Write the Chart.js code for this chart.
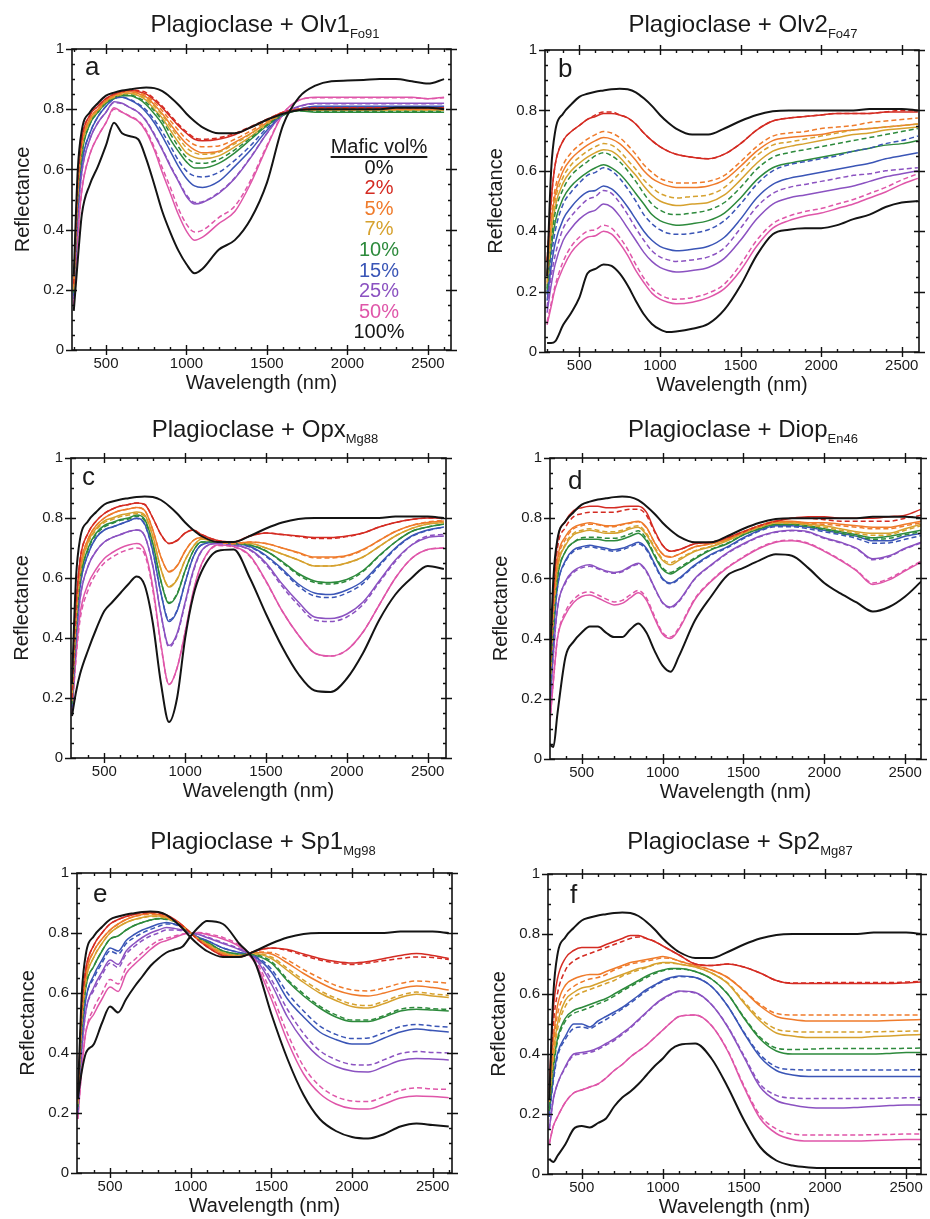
<!DOCTYPE html>
<html>
<head>
<meta charset="utf-8">
<title>Plagioclase + mafic mixtures</title>
<script src="https://cdn.jsdelivr.net/npm/chart.js@4.4.1/dist/chart.umd.min.js"></script>
<style>
body { margin: 0; background: #fff; width: 930px; height: 1219px; overflow: hidden; position: relative;
  font-family: "Liberation Sans", Arial, Helvetica, sans-serif; color: #1a1a1a; }
canvas { position: absolute; }
.ttl { position: absolute; width: 400px; text-align: center; font-size: 24px; line-height: 24px; white-space: nowrap; }
.ttl span { font-size: 13px; position: relative; top: 6px; }
.lbl { position: absolute; font-size: 26px; line-height: 26px; }
.legend { position: absolute; left: 279px; top: 136px; width: 200px; text-align: center; font-size: 20px; line-height: 20.6px; }
.legend u { text-decoration-thickness: 1.5px; text-underline-offset: 3px; }
</style>
</head>
<body>
<script>
// wavelength grid (nm)
const wl = [300,325,350,400,450,500,550,600,650,700,750, 800,850,900,950,1000,1050,1100,1200,1300,1400,1500, 1600,1700,1800,1900,2000,2100,2200,2300,2400,2500,2600];

// 0% mafic = pure plagioclase, same in every panel
const plag = [.25,.60,.73,.79,.82,.845,.855,.862,.866,.870,.872, .870,.860,.840,.815,.785,.760,.740,.720,.720,.740,.765, .785,.797,.800,.800,.800,.800,.800,.805,.805,.805,.800];

// (a) Olv1 Fo91 : measured (solid) and modelled (m, dashed)
const olv1 = [.13,.30,.45,.55,.61,.68,.755,.72,.71,.70,.635, .55,.46,.39,.33,.285,.255,.27,.333,.365,.436,.556, .747,.84,.878,.893,.895,.897,.90,.90,.893,.885,.90];
const olv1_2 = [.22,.55,.70,.78,.81,.835,.85,.858,.862,.858,.85, .83,.805,.775,.745,.72,.70,.695,.70,.715,.74,.765, .79,.80,.805,.805,.805,.805,.805,.805,.805,.805,.805];
const olv1_2m = [.22,.55,.70,.78,.81,.835,.85,.86,.864,.862,.855, .835,.81,.78,.75,.725,.705,.70,.705,.72,.742,.767, .79,.80,.805,.805,.805,.805,.805,.805,.805,.805,.805];
const olv1_5 = [.21,.53,.68,.77,.80,.83,.845,.855,.858,.852,.84, .815,.785,.75,.715,.685,.665,.655,.66,.69,.72,.755, .785,.80,.80,.80,.80,.80,.80,.80,.80,.80,.80];
const olv1_5m = [.21,.53,.68,.77,.80,.83,.845,.855,.86,.855,.845, .823,.795,.762,.73,.70,.682,.675,.678,.70,.728,.76, .787,.80,.80,.80,.80,.80,.80,.80,.80,.80,.80];
const olv1_7 = [.20,.52,.67,.76,.795,.825,.84,.85,.852,.845,.83, .80,.77,.73,.69,.655,.64,.635,.645,.675,.71,.75, .785,.797,.797,.797,.797,.797,.797,.797,.797,.797,.797];
const olv1_7m = [.20,.52,.67,.76,.795,.825,.84,.85,.853,.847,.835, .81,.78,.742,.705,.672,.655,.65,.657,.685,.718,.755, .786,.798,.797,.797,.797,.797,.797,.797,.797,.797,.797];
const olv1_10 = [.19,.50,.65,.75,.79,.82,.835,.845,.845,.835,.815, .785,.75,.70,.66,.625,.605,.605,.62,.655,.70,.745, .78,.795,.79,.79,.79,.79,.79,.79,.79,.79,.79];
const olv1_10m = [.19,.50,.65,.75,.79,.82,.838,.847,.847,.838,.822, .795,.762,.718,.675,.64,.622,.62,.633,.665,.705,.748, .782,.795,.793,.793,.793,.793,.793,.793,.793,.793,.793];
const olv1_15 = [.18,.47,.62,.72,.775,.81,.835,.84,.83,.815,.79, .755,.71,.66,.61,.57,.545,.54,.56,.61,.665,.73, .78,.80,.81,.81,.81,.81,.81,.81,.81,.81,.81];
const olv1_15m = [.18,.47,.62,.72,.775,.81,.835,.84,.832,.818,.797, .765,.725,.678,.63,.595,.578,.575,.59,.63,.68,.738, .782,.80,.808,.808,.808,.808,.808,.808,.808,.808,.808];
const olv1_25 = [.17,.44,.59,.70,.755,.79,.825,.82,.805,.79,.76, .715,.665,.61,.56,.51,.485,.49,.52,.57,.64,.72, .785,.81,.82,.82,.82,.82,.82,.82,.82,.82,.82];
const olv1_25m = [.17,.44,.59,.70,.755,.79,.822,.818,.805,.79,.762, .718,.668,.613,.563,.515,.49,.493,.523,.572,.642,.72, .783,.808,.818,.818,.818,.818,.818,.818,.818,.818,.818];
const olv1_50 = [.15,.38,.53,.65,.71,.755,.805,.79,.775,.76,.725, .665,.59,.52,.45,.395,.365,.375,.42,.46,.555,.675, .785,.83,.84,.84,.84,.84,.84,.84,.84,.835,.84];
const olv1_50m = [.15,.38,.53,.65,.71,.755,.80,.79,.777,.762,.73, .673,.605,.54,.47,.418,.392,.398,.44,.478,.565,.68, .785,.83,.838,.838,.838,.838,.838,.838,.838,.835,.838];

// (b) Olv2 Fo47
const olv2 = [.03,.03,.035,.09,.13,.18,.26,.275,.29,.285,.26, .22,.17,.125,.093,.075,.066,.068,.077,.093,.14,.22, .32,.39,.405,.41,.41,.42,.44,.455,.48,.495,.50];
const olv2_2 = [.30,.50,.62,.70,.73,.75,.77,.78,.79,.79,.785, .775,.755,.725,.70,.68,.665,.655,.645,.64,.655,.69, .735,.765,.775,.78,.785,.79,.79,.79,.795,.795,.795];
const olv2_2m = [.30,.50,.62,.70,.73,.75,.77,.785,.795,.795,.785, .775,.755,.725,.70,.68,.665,.655,.645,.64,.655,.69, .735,.765,.775,.78,.785,.79,.79,.79,.795,.80,.80];
const olv2_5 = [.25,.42,.52,.60,.64,.665,.685,.70,.71,.705,.69, .665,.635,.60,.575,.56,.55,.545,.545,.55,.57,.615, .665,.70,.71,.715,.72,.73,.735,.74,.745,.75,.755];
const olv2_5m = [.26,.44,.54,.62,.66,.685,.705,.72,.73,.725,.71, .685,.655,.62,.595,.575,.565,.56,.56,.565,.585,.63, .68,.715,.725,.73,.74,.745,.75,.76,.765,.77,.775];
const olv2_7 = [.22,.38,.48,.56,.60,.625,.645,.66,.67,.665,.645, .615,.585,.55,.52,.50,.49,.485,.49,.495,.52,.57, .625,.665,.68,.69,.70,.71,.72,.725,.735,.74,.745];
const olv2_7m = [.23,.40,.50,.58,.62,.645,.665,.68,.69,.685,.665, .635,.605,.57,.545,.525,.515,.51,.515,.52,.545,.595, .65,.685,.695,.705,.715,.725,.735,.74,.745,.75,.755];
const olv2_10 = [.20,.34,.43,.51,.55,.575,.595,.61,.62,.61,.59, .56,.525,.49,.455,.435,.425,.42,.425,.435,.46,.51, .57,.61,.625,.635,.645,.655,.665,.675,.685,.69,.70];
const olv2_10m = [.21,.36,.46,.54,.585,.61,.63,.65,.66,.65,.63, .60,.565,.525,.49,.47,.458,.455,.46,.47,.495,.545, .605,.645,.66,.67,.68,.69,.70,.71,.72,.73,.74];
const olv2_15 = [.17,.28,.36,.44,.48,.51,.53,.535,.55,.54,.515, .48,.44,.40,.37,.35,.34,.335,.34,.35,.38,.44, .51,.555,.575,.585,.595,.605,.615,.625,.64,.65,.66];
const olv2_15m = [.19,.31,.40,.49,.53,.56,.585,.595,.61,.60,.575, .54,.50,.455,.425,.405,.393,.39,.393,.405,.435,.49, .555,.60,.62,.63,.64,.65,.665,.675,.69,.70,.715];
const olv2_25 = [.13,.22,.29,.37,.41,.44,.46,.47,.49,.48,.45, .41,.37,.33,.30,.28,.27,.265,.27,.28,.31,.37, .44,.49,.51,.52,.53,.54,.55,.565,.58,.59,.60];
const olv2_25m = [.15,.25,.32,.41,.45,.48,.505,.515,.535,.525,.495, .455,.41,.37,.335,.315,.305,.30,.305,.315,.345,.41, .48,.525,.545,.555,.565,.575,.585,.59,.60,.605,.61];
const olv2_50 = [.09,.15,.21,.28,.33,.36,.38,.385,.40,.39,.36, .32,.27,.23,.195,.175,.165,.16,.165,.18,.21,.27, .35,.41,.435,.45,.46,.475,.49,.51,.53,.555,.575];
const olv2_50m = [.10,.16,.22,.30,.35,.38,.40,.405,.42,.41,.38, .34,.29,.245,.21,.19,.178,.175,.18,.195,.225,.29, .37,.425,.45,.465,.475,.49,.505,.525,.545,.57,.59];

// (c) Opx Mg88
const opx = [.14,.22,.28,.36,.43,.49,.52,.55,.58,.605,.575, .45,.25,.12,.20,.40,.54,.62,.69,.695,.60,.48, .37,.28,.225,.22,.265,.35,.46,.545,.60,.64,.63];
const opx_2 = [.20,.50,.66,.75,.79,.815,.83,.84,.845,.85,.845, .80,.745,.715,.725,.75,.76,.745,.725,.72,.74,.75, .745,.74,.735,.735,.74,.75,.77,.785,.795,.80,.80];
const opx_2m = [.20,.50,.66,.75,.79,.815,.83,.84,.845,.85,.845, .80,.745,.715,.725,.75,.76,.745,.725,.72,.74,.75, .745,.738,.732,.732,.738,.75,.77,.785,.795,.80,.80];
const opx_5 = [.20,.47,.63,.73,.775,.80,.815,.825,.83,.835,.825, .76,.67,.62,.64,.69,.725,.735,.72,.715,.72,.715, .70,.685,.67,.67,.675,.695,.725,.755,.775,.785,.79];
const opx_5m = [.20,.47,.63,.73,.775,.80,.815,.825,.83,.835,.825, .76,.67,.622,.642,.69,.725,.735,.72,.715,.72,.715, .70,.683,.667,.667,.673,.693,.725,.755,.775,.787,.792];
const opx_7 = [.19,.45,.61,.72,.765,.79,.80,.81,.815,.82,.81, .74,.63,.57,.595,.66,.705,.73,.72,.715,.715,.70, .68,.66,.64,.64,.65,.67,.705,.74,.765,.78,.785];
const opx_7m = [.19,.45,.61,.715,.76,.785,.795,.805,.81,.815,.805, .735,.63,.572,.597,.66,.705,.73,.72,.715,.715,.70, .68,.66,.64,.64,.65,.67,.705,.74,.765,.78,.785];
const opx_10 = [.18,.43,.59,.70,.75,.775,.785,.795,.80,.81,.795, .715,.59,.515,.545,.625,.69,.72,.72,.715,.71,.69, .655,.615,.59,.585,.595,.625,.675,.72,.755,.77,.78];
const opx_10m = [.18,.43,.59,.695,.745,.77,.782,.792,.797,.806,.79, .712,.59,.518,.548,.625,.69,.72,.72,.715,.71,.69, .652,.61,.585,.58,.59,.622,.673,.72,.755,.77,.78];
const opx_15 = [.17,.41,.57,.68,.735,.76,.77,.78,.79,.80,.78, .69,.55,.455,.49,.585,.67,.71,.72,.715,.705,.675, .63,.58,.55,.545,.56,.59,.645,.70,.74,.76,.77];
const opx_15m = [.17,.41,.57,.68,.735,.76,.77,.78,.79,.798,.778, .688,.55,.46,.492,.585,.67,.71,.72,.715,.703,.672, .625,.573,.54,.535,.55,.582,.64,.697,.738,.758,.77];
const opx_25 = [.16,.38,.53,.64,.69,.72,.735,.745,.755,.76,.74, .64,.48,.375,.415,.52,.625,.69,.715,.71,.695,.65, .58,.52,.47,.465,.48,.52,.59,.66,.71,.735,.74];
const opx_25m = [.16,.38,.53,.64,.69,.72,.735,.745,.755,.76,.74, .64,.48,.37,.41,.515,.62,.688,.715,.71,.693,.645, .572,.51,.46,.455,.47,.512,.585,.655,.71,.74,.745];
const opx_50 = [.15,.34,.48,.58,.63,.665,.685,.70,.71,.715,.69, .57,.38,.245,.30,.42,.555,.645,.71,.705,.675,.59, .49,.41,.35,.34,.36,.42,.51,.60,.665,.695,.70];
const opx_50m = [.15,.33,.46,.56,.615,.65,.67,.685,.695,.70,.678, .56,.375,.245,.30,.42,.55,.643,.708,.703,.672,.588, .49,.41,.35,.34,.36,.42,.51,.60,.665,.695,.70];

// (d) Diop En46
const diop = [.05,.04,.15,.34,.39,.42,.44,.44,.42,.405,.405, .43,.45,.42,.36,.31,.29,.34,.46,.54,.61,.635, .66,.68,.675,.635,.585,.55,.52,.49,.505,.54,.59];
const diop_2 = [.25,.55,.72,.79,.825,.835,.84,.84,.835,.835,.838, .84,.84,.82,.76,.71,.69,.695,.715,.72,.735,.755, .775,.79,.80,.805,.805,.80,.80,.80,.805,.81,.83];
const diop_2m = [.25,.55,.70,.77,.805,.815,.82,.82,.82,.82,.825, .83,.83,.81,.755,.71,.69,.695,.715,.72,.735,.755, .775,.79,.80,.80,.795,.79,.79,.79,.79,.80,.81];
const diop_5 = [.22,.50,.66,.74,.77,.78,.785,.78,.775,.775,.78, .785,.79,.77,.72,.68,.67,.68,.705,.715,.73,.755, .775,.79,.79,.785,.785,.78,.775,.77,.77,.78,.79];
const diop_5m = [.22,.50,.65,.73,.765,.775,.78,.778,.772,.772,.778, .783,.788,.768,.72,.682,.672,.68,.705,.715,.73,.755, .775,.788,.788,.783,.78,.775,.77,.765,.765,.775,.785];
const diop_7 = [.20,.47,.63,.71,.745,.755,.76,.755,.75,.75,.755, .765,.77,.745,.70,.66,.645,.66,.69,.705,.725,.75, .77,.785,.785,.78,.775,.765,.755,.75,.75,.765,.78];
const diop_7m = [.20,.47,.63,.715,.75,.76,.765,.76,.755,.755,.76, .77,.775,.75,.705,.665,.652,.665,.692,.707,.727,.75, .77,.783,.783,.777,.77,.76,.75,.743,.745,.76,.775];
const diop_10 = [.18,.44,.60,.69,.72,.73,.73,.73,.725,.725,.73, .74,.75,.725,.675,.63,.615,.63,.665,.695,.715,.745, .765,.78,.78,.775,.765,.755,.745,.735,.74,.75,.76];
const diop_10m = [.18,.44,.60,.69,.72,.735,.737,.737,.733,.733,.738, .748,.758,.732,.68,.635,.62,.635,.668,.697,.717,.745, .765,.778,.778,.772,.762,.75,.74,.73,.733,.745,.755];
const diop_15 = [.16,.41,.57,.66,.695,.705,.71,.705,.70,.695,.70, .71,.72,.70,.65,.60,.585,.60,.645,.68,.705,.735, .76,.775,.775,.77,.76,.75,.74,.725,.725,.74,.75];
const diop_15m = [.16,.41,.57,.655,.69,.70,.705,.70,.695,.69,.695, .705,.715,.695,.645,.597,.582,.597,.642,.677,.702,.732, .757,.772,.772,.765,.755,.745,.733,.717,.718,.73,.742];
const diop_25 = [.13,.35,.50,.59,.625,.64,.645,.635,.625,.62,.625, .64,.65,.625,.57,.52,.505,.525,.60,.645,.685,.715, .74,.755,.76,.755,.735,.72,.70,.665,.675,.70,.72];
const diop_25m = [.13,.35,.50,.585,.62,.635,.64,.632,.622,.617,.622, .637,.647,.622,.568,.518,.502,.522,.598,.643,.683,.713, .738,.753,.758,.753,.733,.718,.698,.662,.672,.698,.718];
const diop_50 = [.10,.26,.40,.48,.52,.54,.545,.535,.522,.512,.517, .535,.552,.528,.468,.415,.40,.43,.53,.59,.635,.67, .70,.72,.725,.715,.69,.66,.625,.58,.595,.625,.655];
const diop_50m = [.10,.26,.40,.49,.53,.55,.555,.545,.532,.522,.527, .545,.56,.535,.475,.42,.405,.435,.533,.592,.637,.672, .702,.722,.727,.717,.692,.662,.627,.585,.60,.628,.658];

// (e) Sp1 Mg98
const sp1 = [.25,.34,.40,.43,.50,.555,.535,.58,.62,.655,.69, .715,.735,.745,.755,.79,.82,.84,.83,.765,.70,.53, .38,.26,.18,.14,.12,.115,.13,.155,.165,.16,.155];
const sp1_2 = [.25,.55,.68,.76,.80,.83,.845,.855,.862,.868,.87, .868,.86,.845,.825,.80,.775,.755,.725,.72,.74,.75, .745,.73,.715,.705,.70,.705,.715,.725,.732,.725,.715];
const sp1_2m = [.25,.55,.68,.76,.80,.83,.845,.855,.862,.866,.868, .866,.858,.843,.823,.80,.775,.755,.725,.72,.74,.75, .742,.725,.71,.70,.695,.70,.708,.715,.72,.718,.712];
const sp1_5 = [.24,.52,.66,.74,.78,.81,.83,.845,.855,.862,.865, .862,.855,.843,.825,.80,.778,.76,.73,.722,.735,.73, .70,.665,.635,.61,.595,.59,.60,.615,.623,.618,.61];
const sp1_5m = [.24,.52,.66,.74,.78,.81,.83,.845,.855,.86,.863, .86,.853,.842,.824,.80,.778,.76,.73,.722,.737,.735, .71,.678,.65,.625,.61,.607,.617,.632,.64,.637,.633];
const sp1_7 = [.23,.50,.64,.72,.765,.80,.82,.835,.845,.852,.857, .857,.85,.84,.823,.80,.78,.765,.735,.725,.73,.715, .675,.635,.60,.575,.555,.55,.565,.585,.596,.59,.585];
const sp1_7m = [.23,.50,.64,.72,.765,.80,.82,.835,.845,.85,.855, .855,.848,.838,.822,.80,.78,.765,.735,.725,.732,.72, .682,.643,.608,.583,.563,.558,.573,.592,.603,.597,.592];
const sp1_10 = [.22,.48,.62,.69,.74,.78,.79,.81,.825,.835,.843, .848,.847,.84,.82,.80,.782,.77,.74,.73,.725,.70, .64,.59,.55,.52,.505,.505,.52,.54,.546,.543,.54];
const sp1_10m = [.22,.48,.62,.69,.74,.78,.79,.81,.825,.835,.843, .847,.845,.838,.82,.80,.782,.77,.74,.73,.727,.705, .645,.597,.556,.527,.51,.51,.525,.546,.552,.548,.545];
const sp1_15 = [.21,.45,.58,.66,.71,.75,.74,.775,.795,.81,.82, .83,.835,.83,.82,.80,.785,.775,.75,.735,.72,.67, .58,.52,.47,.445,.43,.43,.45,.47,.48,.475,.47];
const sp1_15m = [.21,.45,.58,.65,.70,.74,.73,.765,.785,.80,.812, .822,.83,.828,.818,.80,.785,.775,.75,.735,.722,.68, .60,.54,.49,.462,.448,.45,.468,.488,.495,.49,.486];
const sp1_25 = [.20,.41,.54,.62,.67,.71,.695,.74,.765,.785,.80, .81,.818,.815,.81,.80,.795,.785,.765,.745,.715,.63, .52,.44,.385,.355,.34,.337,.355,.375,.382,.38,.377];
const sp1_25m = [.20,.41,.54,.61,.66,.70,.685,.73,.755,.775,.79, .80,.81,.81,.807,.80,.795,.787,.768,.748,.72,.645, .545,.465,.408,.378,.362,.36,.378,.398,.405,.402,.40];
const sp1_50 = [.18,.35,.47,.53,.58,.62,.605,.665,.695,.72,.745, .765,.775,.785,.795,.80,.80,.795,.78,.755,.70,.58, .44,.33,.265,.23,.215,.213,.23,.25,.257,.255,.251];
const sp1_50m = [.18,.35,.47,.55,.60,.645,.63,.685,.71,.735,.757, .775,.783,.79,.797,.80,.802,.798,.785,.76,.71,.60, .465,.355,.29,.255,.24,.238,.255,.275,.284,.28,.279];

// (f) Sp2 Mg87
const sp2 = [.05,.04,.06,.10,.15,.16,.155,.17,.185,.225,.255, .275,.30,.33,.36,.385,.415,.43,.435,.385,.29,.18, .09,.045,.028,.022,.02,.02,.02,.02,.02,.02,.02];
const sp2_2 = [.30,.55,.65,.72,.745,.755,.755,.755,.765,.775,.785, .795,.795,.785,.775,.76,.745,.73,.70,.695,.70,.69, .67,.645,.635,.635,.635,.635,.635,.635,.635,.637,.64];
const sp2_2m = [.28,.50,.60,.68,.71,.725,.735,.745,.755,.765,.775, .785,.79,.785,.775,.76,.745,.73,.70,.695,.70,.69, .67,.645,.637,.637,.638,.638,.638,.638,.638,.64,.642];
const sp2_5 = [.28,.45,.56,.63,.65,.66,.665,.665,.675,.685,.695, .705,.71,.715,.72,.725,.72,.71,.695,.68,.655,.61, .56,.525,.515,.51,.51,.51,.51,.51,.512,.513,.515];
const sp2_5m = [.27,.43,.53,.60,.625,.64,.65,.655,.665,.68,.69, .70,.705,.71,.715,.72,.718,.71,.695,.68,.655,.612, .565,.535,.53,.53,.53,.53,.53,.53,.53,.53,.53];
const sp2_7 = [.25,.40,.50,.58,.605,.62,.625,.635,.645,.655,.665, .675,.685,.69,.70,.705,.705,.70,.69,.67,.635,.57, .51,.47,.46,.455,.455,.455,.455,.458,.46,.463,.465];
const sp2_7m = [.24,.38,.48,.56,.59,.605,.615,.625,.635,.645,.66, .67,.68,.688,.698,.703,.703,.70,.69,.67,.637,.575, .518,.483,.475,.473,.473,.473,.473,.474,.475,.476,.477];
const sp2_10 = [.22,.36,.45,.52,.545,.555,.565,.575,.585,.60,.615, .63,.645,.66,.672,.68,.685,.685,.675,.65,.60,.52, .45,.41,.40,.40,.40,.40,.40,.40,.402,.405,.405];
const sp2_10m = [.21,.35,.44,.51,.535,.545,.555,.567,.578,.593,.61, .625,.64,.655,.668,.677,.683,.683,.675,.65,.60,.523, .456,.42,.415,.416,.418,.418,.418,.418,.418,.419,.42];
const sp2_15 = [.20,.32,.40,.46,.50,.50,.49,.51,.525,.54,.555, .575,.595,.615,.63,.645,.655,.66,.655,.625,.56,.47, .39,.345,.33,.325,.325,.325,.325,.325,.325,.325,.325];
const sp2_15m = [.19,.31,.39,.45,.485,.49,.485,.50,.515,.533,.55, .57,.59,.61,.627,.642,.652,.658,.655,.625,.56,.473, .398,.357,.348,.347,.347,.347,.347,.347,.347,.347,.348];
const sp2_25 = [.15,.25,.30,.36,.40,.405,.41,.42,.435,.45,.47, .49,.515,.54,.565,.585,.60,.61,.605,.565,.49,.39, .29,.245,.23,.222,.22,.22,.222,.225,.228,.23,.23];
const sp2_25m = [.15,.25,.30,.355,.395,.40,.405,.415,.43,.445,.465, .487,.512,.538,.563,.583,.598,.608,.603,.565,.492,.395, .30,.262,.253,.252,.252,.252,.252,.252,.253,.254,.255];
const sp2_50 = [.10,.16,.19,.24,.27,.28,.29,.30,.32,.345,.365, .39,.41,.43,.455,.48,.505,.525,.53,.495,.41,.29, .185,.135,.115,.11,.11,.11,.11,.112,.113,.115,.115];
const sp2_50m = [.10,.16,.19,.24,.27,.28,.29,.30,.32,.345,.365, .39,.41,.43,.455,.48,.505,.525,.53,.495,.412,.295, .195,.15,.133,.13,.13,.13,.13,.131,.132,.133,.133];

const mafic = ['0%', '2%', '5%', '7%', '10%', '15%', '25%', '50%', '100%'];
const colors = ['#141414', '#d42b22', '#ef7b2b', '#d6a12e', '#2d8a3c', '#3a55b6', '#8b52c1', '#df56a9', '#141414'];
const xTicks = [500, 1000, 1500, 2000, 2500];
const yTicks = [0, 0.2, 0.4, 0.6, 0.8, 1];

// box = plot area [left, top, right, bottom] in page px, xr = axis range
const panels = [
  { letter: 'a', name: 'Olv1', sub: 'Fo91', end: olv1,
    mix: [olv1_2, olv1_5, olv1_7, olv1_10, olv1_15, olv1_25, olv1_50],
    model: [olv1_2m, olv1_5m, olv1_7m, olv1_10m, olv1_15m, olv1_25m, olv1_50m],
    box: [72, 44, 451, 350], xr: [289, 2643], tx: 265, ty: 32, lx: 13, ly: 31 },
  { letter: 'b', name: 'Olv2', sub: 'Fo47', end: olv2,
    mix: [olv2_2, olv2_5, olv2_7, olv2_10, olv2_15, olv2_25, olv2_50],
    model: [olv2_2m, olv2_5m, olv2_7m, olv2_10m, olv2_15m, olv2_25m, olv2_50m],
    box: [545, 45, 919, 352], xr: [287, 2607], tx: 743, ty: 32, lx: 13, ly: 32 },
  { letter: 'c', name: 'Opx', sub: 'Mg88', end: opx,
    mix: [opx_2, opx_5, opx_7, opx_10, opx_15, opx_25, opx_50],
    model: [opx_2m, opx_5m, opx_7m, opx_10m, opx_15m, opx_25m, opx_50m],
    box: [71, 453, 446, 758], xr: [294, 2613], tx: 265, ty: 437, lx: 11, ly: 32 },
  { letter: 'd', name: 'Diop', sub: 'En46', end: diop,
    mix: [diop_2, diop_5, diop_7, diop_10, diop_15, diop_25, diop_50],
    model: [diop_2m, diop_5m, diop_7m, diop_10m, diop_15m, diop_25m, diop_50m],
    box: [550, 453, 921, 759], xr: [304, 2598], tx: 743, ty: 437, lx: 18, ly: 36 },
  { letter: 'e', name: 'Sp1', sub: 'Mg98', end: sp1,
    mix: [sp1_2, sp1_5, sp1_7, sp1_10, sp1_15, sp1_25, sp1_50],
    model: [sp1_2m, sp1_5m, sp1_7m, sp1_10m, sp1_15m, sp1_25m, sp1_50m],
    box: [77, 868, 452, 1173], xr: [295, 2620], tx: 263, ty: 849, lx: 16, ly: 34 },
  { letter: 'f', name: 'Sp2', sub: 'Mg87', end: sp2,
    mix: [sp2_2, sp2_5, sp2_7, sp2_10, sp2_15, sp2_25, sp2_50],
    model: [sp2_2m, sp2_5m, sp2_7m, sp2_10m, sp2_15m, sp2_25m, sp2_50m],
    box: [548, 869, 921, 1174], xr: [292, 2592], tx: 740, ty: 849, lx: 22, ly: 34 }
];

Chart.defaults.font.family = '"Liberation Sans", Arial, Helvetica, sans-serif';
Chart.defaults.color = '#1a1a1a';

// box frame with major/minor ticks on all four sides
const frameTicks = {
  id: 'frameTicks',
  afterDraw(chart) {
    const { ctx, chartArea: a, scales: { x, y } } = chart;
    ctx.save();
    ctx.strokeStyle = '#111';
    ctx.lineWidth = 1.6;
    ctx.strokeRect(a.left, a.top, a.right - a.left, a.bottom - a.top);
    ctx.lineWidth = 1.4;
    ctx.beginPath();
    for (let v = 300; v <= 2600; v += 100) {
      const px = Math.round(x.getPixelForValue(v)) + 0.5;
      if (px < a.left + 2 || px > a.right - 2) continue;
      const major = v % 500 === 0;
      const out = major ? 5 : 0, inn = major ? 5 : 3;
      ctx.moveTo(px, a.bottom + out); ctx.lineTo(px, a.bottom - inn);
      ctx.moveTo(px, a.top - out); ctx.lineTo(px, a.top + inn);
    }
    for (let k = 0; k <= 20; k++) {
      const py = Math.round(y.getPixelForValue(k * 0.05)) + 0.5;
      const major = k % 4 === 0;
      const out = major ? 6 : 0, inn = major ? 5 : 3;
      ctx.moveTo(a.left - out, py); ctx.lineTo(a.left + inn, py);
      ctx.moveTo(a.right + out, py); ctx.lineTo(a.right - inn, py);
    }
    ctx.stroke();
    ctx.restore();
  }
};

const pts = arr => wl.map((w, i) => ({ x: w, y: arr[i] }));
const line = (arr, color, width, dash) => ({
  data: pts(arr), borderColor: color, borderWidth: width, borderDash: dash || [],
  pointRadius: 0, fill: false, cubicInterpolationMode: 'monotone'
});

function addText(cls, html, left, top) {
  const d = document.createElement('div');
  d.className = cls;
  d.innerHTML = html;
  d.style.left = left + 'px';
  d.style.top = top + 'px';
  document.body.appendChild(d);
}

panels.forEach(p => {
  const [l, t, r, b] = p.box;
  const W = r - l + 72 + 12, H = b - t + 12 + 48;
  const cv = document.createElement('canvas');
  cv.width = W; cv.height = H;
  cv.style.width = W + 'px'; cv.style.height = H + 'px';
  cv.style.left = (l - 72) + 'px'; cv.style.top = (t - 12) + 'px';
  document.body.appendChild(cv);

  const datasets = [line(plag, colors[0], 2), line(p.end, colors[8], 2)];
  p.model.forEach((m, i) => datasets.push(line(m, colors[i + 1], 1.5, [5, 3])));
  p.mix.forEach((m, i) => datasets.push(line(m, colors[i + 1], 1.5)));

  new Chart(cv, {
    type: 'line',
    data: { datasets },
    options: {
      responsive: false, animation: false, devicePixelRatio: 1,
      layout: { padding: { left: 0, top: 12, right: 12, bottom: 0 } },
      plugins: { legend: { display: false }, tooltip: { enabled: false } },
      scales: {
        x: {
          type: 'linear', min: p.xr[0], max: p.xr[1],
          afterBuildTicks: s => { s.ticks = xTicks.map(v => ({ value: v })); },
          afterFit: s => { s.height = 48; },
          grid: { display: false, drawTicks: false }, border: { display: false },
          ticks: { font: { size: 15 }, padding: 5, maxRotation: 0, autoSkip: false, color: '#1a1a1a',
                   callback: v => String(v) },
          title: { display: true, text: 'Wavelength (nm)', font: { size: 20 }, padding: { top: 0, bottom: 3 }, color: '#1a1a1a' }
        },
        y: {
          type: 'linear', min: 0, max: 1,
          afterBuildTicks: s => { s.ticks = yTicks.map(v => ({ value: v })); },
          afterFit: s => { s.width = 72; },
          grid: { display: false, drawTicks: false }, border: { display: false },
          ticks: { font: { size: 15 }, padding: 8, color: '#1a1a1a', callback: v => String(v) },
          title: { display: true, text: 'Reflectance', font: { size: 20 }, padding: { top: 11, bottom: 0 }, color: '#1a1a1a' }
        }
      }
    },
    plugins: [frameTicks]
  });

  addText('ttl', 'Plagioclase + ' + p.name + '<span>' + p.sub + '</span>', p.tx - 200, p.ty - 20);
  addText('lbl', p.letter, l + p.lx, t + p.ly - 22);
});

// mafic vol% key in panel (a)
const key = document.createElement('div');
key.className = 'legend';
key.innerHTML = '<u>Mafic vol%</u><br>' +
  mafic.map((m, i) => '<span style="color:' + colors[i] + '">' + m + '</span>').join('<br>');
document.body.appendChild(key);
</script>
</body>
</html>
